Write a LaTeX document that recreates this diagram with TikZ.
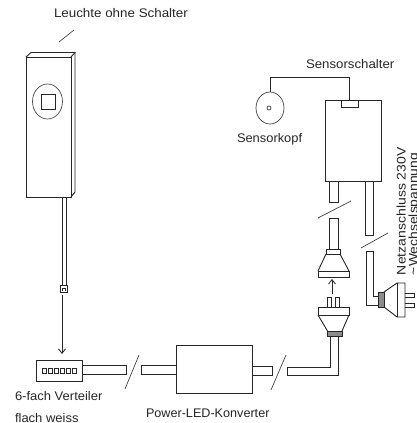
\documentclass[tikz,border=0pt]{standalone}
\usepackage{fontspec}
\setmainfont{Liberation Sans}
\usetikzlibrary{arrows.meta}
\tikzset{
  ln/.style={draw=black!85,line width=0.9pt,line join=miter},
  lbl/.style={inner sep=0pt,outer sep=0pt,font=\fontsize{12.5}{14}\selectfont,text=black!85,anchor=base west},
  slash/.style={draw=black!75,line width=0.7pt},
  arr/.style={draw=black!85,line width=0.8pt,-{Straight Barb[length=4.5pt,width=7pt]}},
  collar/.style={draw=black!85,line width=0.9pt,fill=black!45}
}
\newcommand{\wide}[2]{\scalebox{#1}[1]{#2}}
\begin{document}
\begin{tikzpicture}[x=1pt,y=-1pt]
\useasboundingbox[fill=white] (0,0) rectangle (417,423);
\begin{scope}
\clip (0,0) rectangle (417,423);
% lamp
\draw[ln] (26,57) rectangle (71,197);
\draw[ln] (26,57) -- (31,52.5) -- (75,52.5) -- (71,57);
\draw[ln] (75,52.5) -- (75,192) -- (71,197);
\draw[black!70,line width=0.7pt] (47.5,101.5) ellipse (15 and 17.5);
\draw[ln] (41,94) rectangle (55,109);
\draw[ln] (62,197) -- (62,285) (66,197) -- (66,285);
\node[draw=black!85,line width=0.9pt,minimum width=7pt,minimum height=7pt,inner sep=0pt] (conn) at (63.5,288.5) {};
\draw[black!85,line width=0.6pt] (62,291) -- (62,288) -- (65,288) -- (65,291);
\coordinate (arrs) at (62,295);
\coordinate (arre) at (62,354);
\draw[arr] (arrs) -- (arre);
% distributor
\draw[ln] (36,360) rectangle (82,381);
\foreach \i in {0,...,5}{\draw[black!85,line width=0.7pt] (42.5+\i*6,368) rectangle (46.5+\i*6,373);}
\draw[ln] (82,365.5) -- (126,365.5) -- (126,374.5) -- (82,374.5);
\draw[slash] (125,389) -- (139,355);
% converter
\draw[ln] (176,345) rectangle (252,393);
\draw[ln] (176,365.5) -- (141.5,365.5) -- (141.5,374) -- (176,374);
\draw[ln] (252,366.5) -- (272,366.5) -- (272,375) -- (252,375);
\draw[slash] (271,390) -- (286,355);
% U cable to plug
\draw[ln] (338,336) -- (338,375) -- (287.5,375) -- (287.5,367) -- (330,367) -- (330,336);
\draw[ln] (327.5,331) -- (318,315) (342,331) -- (349,315);
\draw[ln] (318,307.5) rectangle (349,315);
\draw[ln] (327,307) -- (327,297.5) -- (331,297.5) -- (331,307);
\draw[ln] (335.5,307) -- (335.5,297.5) -- (339.5,297.5) -- (339.5,307);
\draw[collar] (327.5,331) rectangle (342,336);
\coordinate (ua) at (332,294);
\coordinate (ub) at (332,279);
\draw[arr] (ua) -- (ub);
% socket
\draw[ln] (318,271) rectangle (349,277);
\draw[ln] (326,249.5) rectangle (340,254);
\draw[ln] (326,254) -- (318,271) (340,254) -- (349,271);
\draw[ln] (329,249) -- (329,218.5) -- (338,218.5) -- (338,249);
\draw[slash] (318,218) -- (351,201);
\draw[ln] (329,181) -- (329,202) -- (338,202) -- (338,181);
% sensor switch
\draw[ln] (325,100) rectangle (381,181);
\draw[ln] (341,100) -- (341,107) -- (358,107) -- (358,100);
\draw[ln] (349,100) -- (349,77) -- (270,77) -- (270,92);
\draw[black!75,line width=0.7pt] (270,108) ellipse (14 and 16);
\draw[black!75,line width=0.7pt] (269,108) circle (2);
% mains cable
\draw[ln] (365,181) -- (365,235) -- (373,235) -- (373,181);
\draw[slash] (361,248) -- (388,233);
\draw[ln] (378,305) -- (366,305) -- (366,251) -- (373,251) -- (373,296) -- (378,296);
\draw[collar] (378,292) rectangle (384,307);
\draw[ln] (384,292) -- (397,283) -- (405,283) -- (405,317) -- (397,317) -- (384,307);
\draw[ln] (397,283) -- (397,317);
\draw[ln] (405,293) -- (414,293) -- (414,297) -- (405,297);
\draw[ln] (405,303) -- (414,303) -- (414,307) -- (405,307);
\draw[slash] (59,42) -- (74,30);
% labels
\node[lbl] (t1) at (54,17.5) {\wide{1.07}{Leuchte ohne Schalter}};
\node[lbl] (t2) at (306,68) {\wide{1.06}{Sensorschalter}};
\node[lbl] (t3) at (237,142) {\wide{1.03}{Sensorkopf}};
\node[lbl] (t4) at (15,400) {\wide{1.04}{6-fach Verteiler}};
\node[lbl] (t5) at (15,422) {\wide{1.04}{flach weiss}};
\node[lbl] (t6) at (146,417) {\wide{1.01}{Power-LED-Konverter}};
\node[lbl,rotate=90] (t7) at (405.5,275) {\wide{1.12}{Netzanschluss 230V}};
\node[lbl,rotate=90] (t8) at (417.5,275) {\wide{1.11}{\char"007E Wechselspannung}};
\end{scope}
\end{tikzpicture}
\end{document}
